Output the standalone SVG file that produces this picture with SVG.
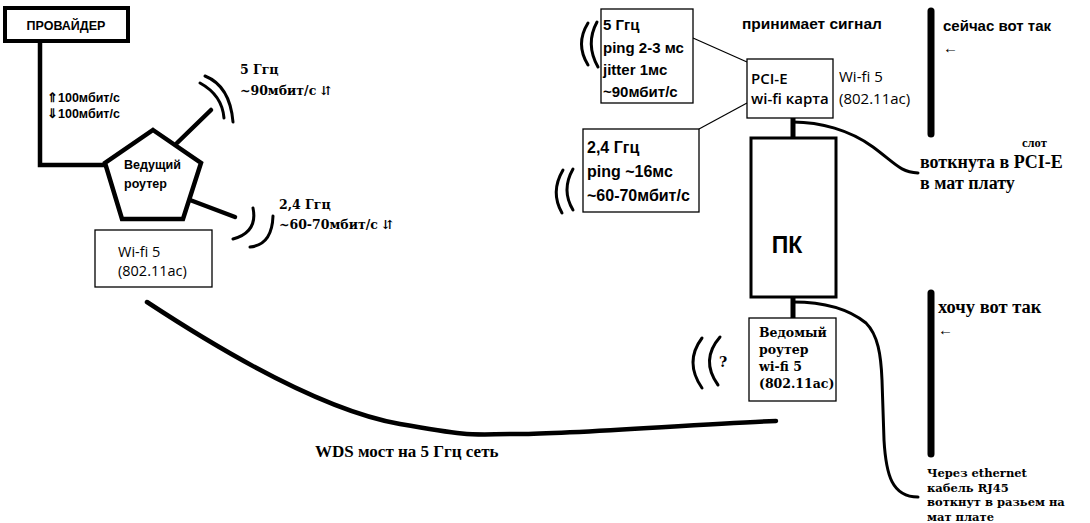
<svg xmlns="http://www.w3.org/2000/svg" width="1090" height="523" viewBox="0 0 1090 523">
<style>
.sb{font-family:"Liberation Sans",Arial,sans-serif;font-weight:bold;fill:#000}
.sn{font-family:"Open Sans","Liberation Sans",Arial,sans-serif;fill:#000}
.rb{font-family:"Liberation Serif","Times New Roman",serif;font-weight:bold;fill:#000}
.db{font-family:"DejaVu Serif","Liberation Serif",serif;font-weight:bold;fill:#000}
.thick{fill:none;stroke:#000;stroke-width:4.5;stroke-linecap:round;stroke-linejoin:miter}
.wave{fill:none;stroke:#000;stroke-width:3;stroke-linecap:round}
.cable{fill:none;stroke:#000;stroke-width:3;stroke-linecap:round;stroke-linejoin:round}
.thin{fill:#fff;stroke:#000;stroke-width:1.3}
.bar{stroke:#000;stroke-width:7;stroke-linecap:round}
</style>
<rect width="1090" height="523" fill="#fff"/>

<g id="connectors">
  <path class="thick" d="M40,42 V165 H106" stroke-linecap="butt"/>
  <line class="thick" x1="177" y1="143" x2="211" y2="110"/>
  <line class="thick" x1="190" y1="200" x2="235" y2="217"/>
  <path class="thick" d="M147,302 C220,350 320,410 400,424 S470,434 520,434 S700,424 776,421"/>
  <line x1="693" y1="38" x2="747" y2="62" stroke="#000" stroke-width="1.2"/>
  <line x1="747" y1="103" x2="699" y2="129" stroke="#000" stroke-width="1.2"/>
  <line x1="793" y1="118" x2="793" y2="138" stroke="#000" stroke-width="5"/>
  <line x1="793" y1="297" x2="793" y2="318" stroke="#000" stroke-width="5"/>
  <path class="cable" d="M793,122 C820,122 850,130 873,147 S900,172 918,173"/>
  <path class="cable" d="M793,302 C825,302 850,310 866,323 C878,335 881,355 882,380 L884,440 C886,475 892,497 918,497"/>
</g>

<g id="provider">
  <rect x="5" y="8" width="123" height="33" fill="#fff" stroke="#000" stroke-width="4"/>
  <text class="sb" x="66" y="30" font-size="12.5" text-anchor="middle">ПРОВАЙДЕР</text>
</g>
<g id="speed-label">
  <text class="sb" x="47" y="102" font-size="12.5">⇑100мбит/с</text>
  <text class="sb" x="47" y="118" font-size="12.5">⇓100мбит/с</text>
</g>

<g id="main-router">
  <polygon points="153,130 201,163 183,219 122,219 105,163" fill="#fff" stroke="#000" stroke-width="4.5" stroke-linejoin="miter"/>
  <text class="sb" x="124" y="169" font-size="12.5">Ведущий</text>
  <text class="sb" x="124" y="188" font-size="12.5">роутер</text>
</g>

<g id="router-5ghz">
  <path class="wave" d="M205,76 Q230,86 233,122"/>
  <path class="wave" d="M200,83 Q222,95 224,118"/>
  <text class="db" x="240" y="74" font-size="12.5">5 Ггц</text>
  <text class="db" x="240" y="95" font-size="12.5">~90мбит/с ⇵</text>
</g>

<g id="router-24ghz">
  <path class="wave" d="M253,208 Q258,232 233,239"/>
  <path class="wave" d="M273,216 Q272,245 250,247"/>
  <text class="db" x="279" y="209" font-size="12.5">2,4 Ггц</text>
  <text class="db" x="279" y="229" font-size="12.5">~60-70мбит/с ⇵</text>
</g>

<g id="router-wifi">
  <rect class="thin" x="95" y="230" width="117" height="57"/>
  <text class="sn" x="118" y="257" font-size="14.5">Wi-fi 5</text>
  <text class="sn" x="118" y="276" font-size="14.5">(802.11ac)</text>
</g>

<g id="wds-label">
  <text class="rb" x="315" y="457" font-size="17">WDS мост на 5 Ггц сеть</text>
</g>

<g id="card-5ghz">
  <path class="wave" d="M588,23 Q575,44 588,65"/>
  <path class="wave" d="M597,22 Q585,44 598,67"/>
  <rect class="thin" x="601" y="9" width="92" height="94"/>
  <text class="sb" x="603" y="30" font-size="15">5 Ггц</text>
  <text class="sb" x="603" y="53" font-size="15">ping 2-3 мс</text>
  <text class="sb" x="603" y="75" font-size="15">jitter 1мс</text>
  <text class="sb" x="603" y="97" font-size="15">~90мбит/с</text>
</g>

<g id="card-24ghz">
  <path class="wave" d="M563,170 Q550,192 562,213"/>
  <path class="wave" d="M573,169 Q561,190 573,210"/>
  <rect class="thin" x="583" y="129" width="116" height="83"/>
  <text class="sb" x="587" y="153" font-size="16">2,4 Ггц</text>
  <text class="sb" x="587" y="177" font-size="16">ping ~16мс</text>
  <text class="sb" x="587" y="201" font-size="16">~60-70мбит/с</text>
</g>

<g id="receive-label">
  <text class="sb" x="742" y="29" font-size="15.5">принимает сигнал</text>
</g>

<g id="pcie-card">
  <rect class="thin" x="747" y="59" width="86" height="59"/>
  <text class="sn" x="751" y="84" font-size="15" font-weight="600">PCI-E</text>
  <text class="sn" x="751" y="104" font-size="15" font-weight="600">wi-fi карта</text>
  <text class="sn" x="839" y="82" font-size="15">Wi-fi 5</text>
  <text class="sn" x="839" y="104" font-size="15">(802.11ac)</text>
</g>

<g id="pc">
  <rect x="751" y="138" width="85" height="159" fill="#fff" stroke="#000" stroke-width="3"/>
  <text class="sb" x="787" y="253" font-size="23" text-anchor="middle">ПК</text>
</g>

<g id="slave-router">
  <path class="wave" d="M702,338 Q684,362 702,388"/>
  <path class="wave" d="M720,337 Q700,360 718,385"/>
  <text class="db" x="719" y="367" font-size="14">?</text>
  <rect class="thin" x="749" y="318" width="87" height="83"/>
  <text class="db" x="759" y="337" font-size="12.5">Ведомый</text>
  <text class="db" x="759" y="354" font-size="12.5">роутер</text>
  <text class="db" x="759" y="371" font-size="12.5">wi-fi 5</text>
  <text class="db" x="759" y="388" font-size="12.5">(802.11ac)</text>
</g>

<g id="now-section">
  <line class="bar" x1="931" y1="11" x2="931" y2="134"/>
  <text class="sb" x="943" y="31" font-size="15">сейчас вот так</text>
  <text class="sn" x="943" y="53" font-size="15">←</text>
  <text class="rb" x="1022" y="147" font-size="12.5">слот</text>
  <text class="rb" x="920" y="168" font-size="18">воткнута в PCI-E</text>
  <text class="rb" x="920" y="189" font-size="18">в мат плату</text>
</g>

<g id="want-section">
  <line class="bar" x1="931" y1="293" x2="931" y2="454"/>
  <text class="rb" x="938" y="313" font-size="18.5">хочу вот так</text>
  <text class="sn" x="938" y="335" font-size="15">←</text>
  <text class="db" x="927" y="477" font-size="11.5">Через ethernet</text>
  <text class="db" x="927" y="491.5" font-size="11.5">кабель RJ45</text>
  <text class="db" x="927" y="506" font-size="11.5">воткнут в разьем на</text>
  <text class="db" x="927" y="520.5" font-size="11.5">мат плате</text>
</g>
</svg>
